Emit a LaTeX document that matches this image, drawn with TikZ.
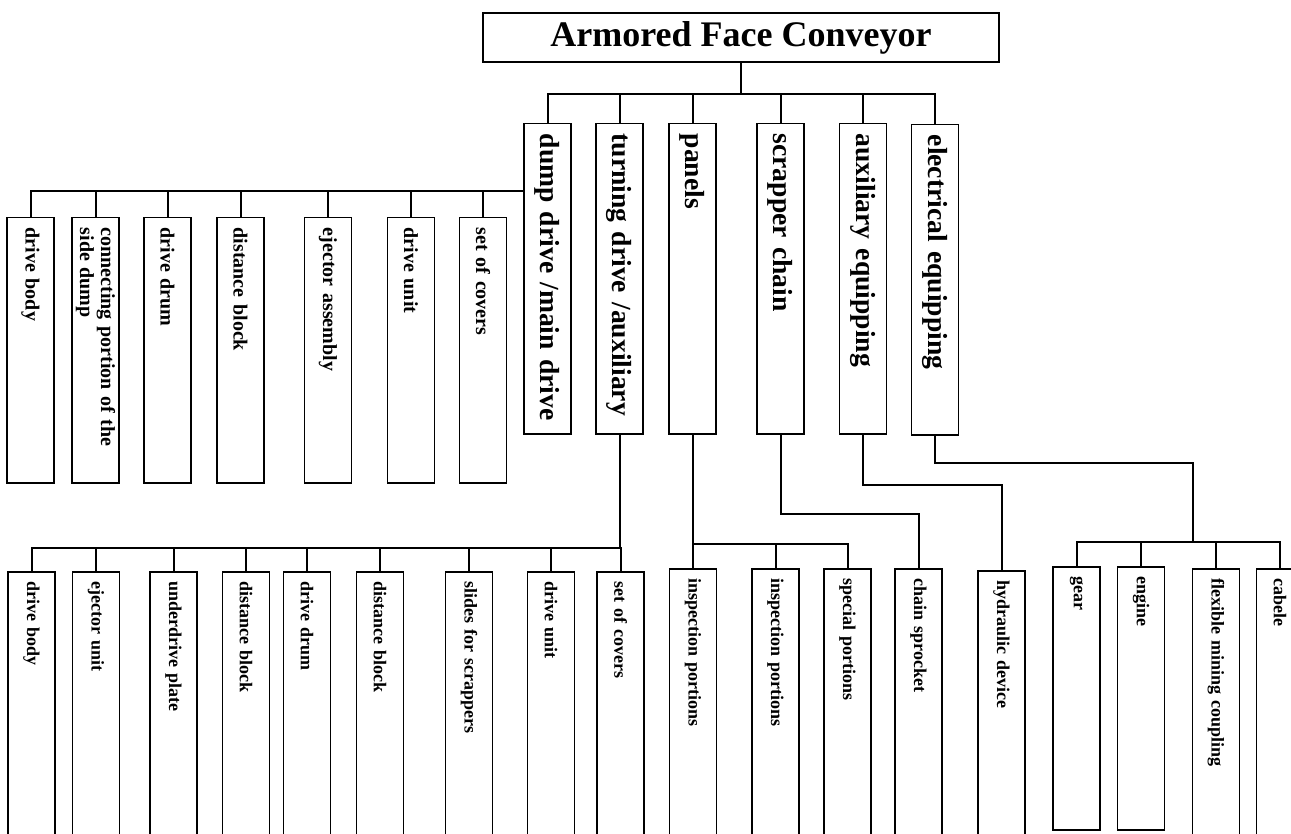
\documentclass[tikz,border=0pt]{standalone}
\usepackage{fontspec}
\setmainfont{Liberation Serif}

\begin{document}
\begin{tikzpicture}[
    x=0.5pt, y=-0.5pt,
    rootbox/.style={draw, line width=0.75pt, minimum width=258pt, minimum height=24.5pt, inner sep=0pt, font=\bfseries\fontsize{18}{20}\selectfont},
    mainpart/.style={draw, line width=0.75pt, rotate=-90, anchor=west, minimum height=23.5pt, inner xsep=5pt, inner ysep=1pt, text width=145pt, align=left, font=\bfseries\fontsize{13.8}{15}\selectfont},
    subpart/.style={mainpart, text width=122.5pt, font=\bfseries\fontsize{10}{10.5}\selectfont},
    lowpart/.style={mainpart, text width=127pt, font=\bfseries\fontsize{9}{10}\selectfont},
    wire/.style={line width=1pt},
]
\useasboundingbox (0,0) rectangle (1291,834);
\clip (0,0) rectangle (1291,834);

\node[rootbox] (root) at (741,37.5) {Armored Face Conveyor};

\node[mainpart] (dump) at (547.5,123) {dump drive /main drive};
\node[mainpart] (turning) at (619.5,123) {turning drive /auxiliary};
\node[mainpart] (panels) at (692.5,123) {panels};
\node[mainpart] (scrapper) at (780.5,123) {scrapper chain};
\node[mainpart] (aux) at (863,123) {auxiliary equipping};
\node[mainpart] (elec) at (935,124) {electrical equipping};

\node[subpart] (dbody) at (30.5,217) {drive body};
\node[subpart, inner ysep=0pt] (dconn) at (95.5,217) {connecting portion of the\\side dump};
\node[subpart] (ddrum) at (167.5,217) {drive drum};
\node[subpart] (dblock) at (240.5,217) {distance block};
\node[subpart] (deject) at (328,217) {ejector assembly};
\node[subpart] (dunit) at (411,217) {drive unit};
\node[subpart] (dcover) at (483,217) {set of covers};

\node[lowpart] (tbody) at (31.5,571) {drive body};
\node[lowpart] (teject) at (96,571) {ejector unit};
\node[lowpart] (tplate) at (173.5,571) {underdrive plate};
\node[lowpart] (tblocka) at (246,571) {distance block};
\node[lowpart] (tdrum) at (307,571) {drive drum};
\node[lowpart] (tblockb) at (380,571) {distance block};
\node[lowpart] (tslide) at (469,571) {slides for scrappers};
\node[lowpart] (tunit) at (551,571) {drive unit};
\node[lowpart] (tcover) at (620.5,571) {set of covers};

\node[lowpart] (pinspa) at (693,568) {inspection portions};
\node[lowpart] (pinspb) at (775.5,568) {inspection portions};
\node[lowpart] (pspec) at (847.5,568) {special portions};
\node[lowpart] (chain) at (918.5,568) {chain sprocket};
\node[lowpart] (hydr) at (1001.5,570) {hydraulic device};
\node[lowpart, text width=121.5pt] (gear) at (1076.5,566) {gear};
\node[lowpart, text width=121.5pt] (engine) at (1141,566) {engine};
\node[lowpart] (flex) at (1216,568) {flexible mining coupling};
\node[lowpart] (cable) at (1280,568) {cabele};

\coordinate (busa) at (741,94);
\draw[wire] (root.south) -- (busa);
\draw[wire] (busa) -| (dump.west);
\draw[wire] (busa) -| (turning.west);
\draw[wire] (busa) -| (panels.west);
\draw[wire] (busa) -| (scrapper.west);
\draw[wire] (busa) -| (aux.west);
\draw[wire] (busa) -| (elec.west);

\coordinate (busb) at ([yshift=-34pt]dump.south west);
\draw[wire] (busb) -| (dbody.west);
\draw[wire] (busb) -| (dconn.west);
\draw[wire] (busb) -| (ddrum.west);
\draw[wire] (busb) -| (dblock.west);
\draw[wire] (busb) -| (deject.west);
\draw[wire] (busb) -| (dunit.west);
\draw[wire] (busb) -| (dcover.west);

\coordinate (busc) at ([yshift=-56.5pt]turning.east);
\draw[wire] (turning.east) -- (busc);
\draw[wire] (busc) -| (tbody.west);
\draw[wire] (busc) -| (teject.west);
\draw[wire] (busc) -| (tplate.west);
\draw[wire] (busc) -| (tblocka.west);
\draw[wire] (busc) -| (tdrum.west);
\draw[wire] (busc) -| (tblockb.west);
\draw[wire] (busc) -| (tslide.west);
\draw[wire] (busc) -| (tunit.west);
\draw[wire] (busc) -| (tcover.west);

\coordinate (busd) at ([yshift=-54.5pt]panels.east);
\draw[wire] (panels.east) -- (busd);
\draw[wire] (busd) -| (pinspa.west);
\draw[wire] (busd) -| (pinspb.west);
\draw[wire] (busd) -| (pspec.west);

\draw[wire] (scrapper.east) -- ++(0,79) -| (chain.west);
\draw[wire] (aux.east) -- ++(0,50) -| (hydr.west);

\coordinate (buse) at (1193,542);
\draw[wire] (elec.east) -- ++(0,27) -| (buse);
\draw[wire] (buse) -| (gear.west);
\draw[wire] (buse) -| (engine.west);
\draw[wire] (buse) -| (flex.west);
\draw[wire] (buse) -| (cable.west);

\end{tikzpicture}
\end{document}
